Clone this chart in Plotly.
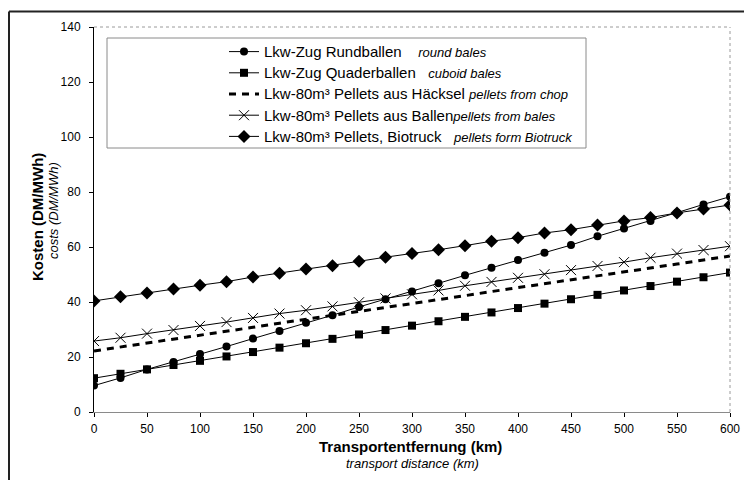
import plotly.graph_objects as go

distance_km = [0, 25, 50, 75, 100, 125, 150, 175, 200, 225, 250, 275, 300,
               325, 350, 375, 400, 425, 450, 475, 500, 525, 550, 575, 600]

rundballen = [9.6, 12.4, 15.5, 18.2, 21.1, 23.8, 26.7, 29.5, 32.5, 35.2, 38.2, 41.0, 43.8,
              46.8, 49.7, 52.5, 55.3, 57.9, 60.7, 63.9, 66.7, 69.5, 72.5, 75.5, 78.3]
quaderballen = [12.3, 13.9, 15.5, 17.1, 18.6, 20.2, 21.8, 23.4, 25.0, 26.6, 28.2, 29.8, 31.4,
                33.0, 34.6, 36.2, 37.8, 39.4, 41.0, 42.6, 44.2, 45.8, 47.4, 49.0, 50.7]
haecksel = [22.2, 23.6, 25.1, 26.5, 27.9, 29.4, 30.8, 32.3, 33.7, 35.1, 36.6, 38.0, 39.5,
            40.9, 42.3, 43.8, 45.2, 46.6, 48.1, 49.5, 50.9, 52.4, 53.8, 55.3, 56.7]
ballen = [25.8, 27.0, 28.5, 29.8, 31.3, 32.7, 34.2, 35.8, 37.0, 38.4, 39.9, 41.3, 42.8,
          44.2, 45.9, 47.3, 48.8, 50.1, 51.6, 53.1, 54.5, 56.1, 57.6, 58.9, 60.3]
biotruck = [40.4, 41.9, 43.3, 44.7, 46.1, 47.4, 49.1, 50.5, 52.0, 53.2, 54.8, 56.3, 57.6,
            59.0, 60.5, 62.1, 63.4, 65.1, 66.3, 68.0, 69.5, 70.7, 72.4, 73.8, 75.3]

DE = '<span style="font-size:15px">{}</span>'
EN = '<span style="font-size:13px"><i>{}</i></span>'
SP = "&nbsp;"
names = [
    DE.format("Lkw-Zug Rundballen" + SP * 4) + EN.format("round bales"),
    DE.format("Lkw-Zug Quaderballen" + SP * 3) + EN.format("cuboid bales"),
    DE.format("Lkw-80m³ Pellets aus Häcksel" + SP * 1) + EN.format("pellets from chop"),
    DE.format("Lkw-80m³ Pellets aus Ballen") + EN.format("pellets from bales"),
    DE.format("Lkw-80m³ Pellets, Biotruck" + SP * 3) + EN.format("pellets form Biotruck"),
]

FONT = "Liberation Sans, Arial, sans-serif"
fig = go.Figure()

fig.add_trace(go.Scatter(x=distance_km, y=rundballen, name=names[0],
                         mode="lines+markers", line=dict(color="black", width=1),
                         marker=dict(symbol="circle", size=8, color="black")))
fig.add_trace(go.Scatter(x=distance_km, y=quaderballen, name=names[1],
                         mode="lines+markers", line=dict(color="black", width=1),
                         marker=dict(symbol="square", size=8, color="black")))
fig.add_trace(go.Scatter(x=distance_km, y=haecksel, name=names[2],
                         mode="lines", line=dict(color="black", width=3, dash="7px,6px")))
fig.add_trace(go.Scatter(x=distance_km, y=ballen, name=names[3],
                         mode="lines+markers", line=dict(color="black", width=1),
                         marker=dict(symbol="x-thin-open", size=10, color="black",
                                     line=dict(color="black", width=1))))
fig.add_trace(go.Scatter(x=distance_km, y=biotruck, name=names[4],
                         mode="lines+markers", line=dict(color="black", width=1),
                         marker=dict(symbol="diamond", size=10, color="black")))

# page body has an 8px margin; screen-space plot area: x 94..730, y 27..412
OFF = 8
W, H = 744, 472
SX0, SX1, SY0, SY1 = 94, 730, 27, 412
L, R = SX0 - OFF, (W + OFF) - SX1
T, B = SY0 - OFF, (H + OFF) - SY1
pw, ph = SX1 - SX0, SY1 - SY0

def px(sx):
    return (sx - SX0) / pw

def py(sy):
    return (SY1 - sy) / ph

fig.update_layout(
    width=W, height=H,
    margin=dict(l=L, r=R, t=T, b=B),
    paper_bgcolor="white", plot_bgcolor="white",
    font=dict(family=FONT, size=12, color="black"),
    showlegend=True,
    legend=dict(x=px(224), y=py(36), xanchor="left", yanchor="top",
                bgcolor="rgba(0,0,0,0)", borderwidth=0,
                font=dict(family=FONT, size=14, color="black"),
                itemwidth=30),
    xaxis=dict(range=[0, 600], dtick=50, tick0=0, showgrid=False, zeroline=False,
               showline=True, linecolor="#8a8a8a", linewidth=1,
               ticks="outside", ticklen=4, tickcolor="black",
               tickfont=dict(family=FONT, size=12), ticklabelstandoff=2),
    yaxis=dict(range=[0, 140], dtick=20, tick0=0, showgrid=False, zeroline=False,
               showline=True, linecolor="black", linewidth=1,
               ticks="outside", ticklen=4, tickcolor="black",
               tickfont=dict(family=FONT, size=12), ticklabelstandoff=6),
    shapes=[
        dict(type="line", xref="paper", yref="paper", x0=0, x1=1, y0=1, y1=1,
             line=dict(color="#9a9a9a", width=1, dash="dot")),
        dict(type="line", xref="paper", yref="paper", x0=1, x1=1, y0=0, y1=1,
             line=dict(color="#9a9a9a", width=1, dash="dot")),
        dict(type="rect", xref="paper", yref="paper", x0=px(107), x1=px(586),
             y0=py(148), y1=py(38), line=dict(color="#8a8a8a", width=1)),
        # outer frame: only left and top edges are visible in the picture
        dict(type="line", xref="paper", yref="paper", x0=px(9), x1=px(9),
             y0=py(480), y1=py(11.5), line=dict(color="#222", width=2)),
        dict(type="line", xref="paper", yref="paper", x0=px(9), x1=px(760),
             y0=py(11.5), y1=py(11.5), line=dict(color="#222", width=2)),
    ],
    annotations=[
        dict(text="<b>Kosten (DM/MWh)</b>", xref="paper", yref="paper",
             x=px(37), y=py(217), textangle=-90, showarrow=False,
             xanchor="center", yanchor="middle", font=dict(family=FONT, size=15)),
        dict(text="<i>costs (DM/MWh)</i>", xref="paper", yref="paper",
             x=px(53), y=py(211), textangle=-90, showarrow=False,
             xanchor="center", yanchor="middle", font=dict(family=FONT, size=13)),
        dict(text="<b>Transportentfernung (km)</b>", xref="paper", yref="paper",
             x=px(410), y=py(447), showarrow=False,
             xanchor="center", yanchor="middle", font=dict(family=FONT, size=15)),
        dict(text="<i>transport distance (km)</i>", xref="paper", yref="paper",
             x=px(412), y=py(463), showarrow=False,
             xanchor="center", yanchor="middle", font=dict(family=FONT, size=13)),
    ],
)

fig.write_html("out.html")
